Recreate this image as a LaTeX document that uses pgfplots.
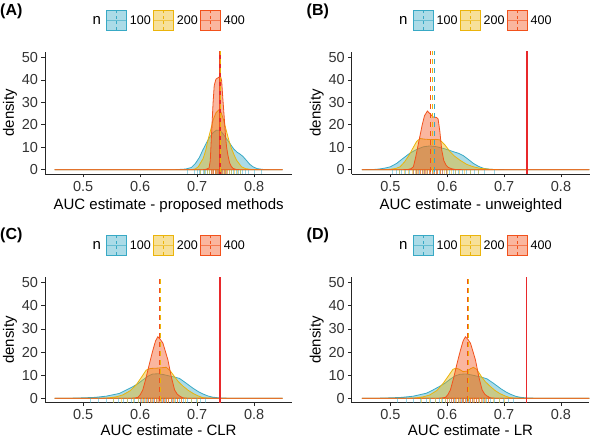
\documentclass[border=0pt]{standalone}
\usepackage{pgfplots}
\pgfplotsset{compat=1.18}
\usepackage{fontspec}
\setmainfont{Liberation Sans}
\definecolor{cA}{HTML}{38A9C5}
\definecolor{cB}{HTML}{EBB40B}
\definecolor{cC}{HTML}{F2511B}
\definecolor{cR}{HTML}{E8282B}
\newcommand{\tickfont}{\fontsize{14.5}{16}\selectfont}
\newcommand{\labfont}{\fontsize{15}{17}\selectfont}
\newcommand{\legfont}{\fontsize{12.5}{14}\selectfont}
\pgfplotsset{
  panel/.style={
    scale only axis,
    axis x line*=bottom, axis y line*=left,
    axis line style={black!85, line width=0.7pt, -},
    tick align=outside, major tick length=3.5pt,
    tick style={black!85, line width=0.6pt},
    xtick={0.5,0.6,0.7,0.8}, ytick={0,10,20,30,40,50},
    minor tick num=0,
    /pgf/number format/assume math mode=true,
    every tick label/.append style={font=\tickfont, text=black!80},
    every axis label/.append style={font=\labfont, text=black},
    ylabel={density},
    xlabel style={at={(axis description cs:0.5,0)}, anchor=base, yshift=-36pt},
    ymin=-1.9, clip=true,
  },
  d100/.style={draw=cA, fill=cA, fill opacity=0.42, line width=0.8pt},
  d200/.style={draw=cB, fill=cB, fill opacity=0.42, line width=0.8pt},
  d400/.style={draw=cC, fill=cC, fill opacity=0.42, line width=0.8pt},
  r100/.style={ycomb, no markers, draw=cA, draw opacity=0.5, line width=0.6pt},
  r200/.style={ycomb, no markers, draw=cB, draw opacity=0.5, line width=0.6pt},
  r400/.style={ycomb, no markers, draw=cC, draw opacity=0.5, line width=0.6pt},
  v100/.style={cA, line width=1.1pt, dash pattern=on 4.5pt off 4.5pt},
  v200/.style={cB, line width=1.1pt, dash pattern=on 4.5pt off 4.5pt},
  v400/.style={cC, line width=1.1pt, dash pattern=on 4.5pt off 4.5pt},
  truth/.style={cR, line width=1.3pt},
}
\newcommand{\lkey}[4]{%
  \fill[#3, fill opacity=0.42] (#1,#2-10) rectangle (#1+20,#2+10);
  \draw[#3, line width=0.8pt] (#1,#2-10) rectangle (#1+20,#2+10);
  \draw[#3, line width=0.6pt, opacity=0.6] (#1,#2) -- (#1+20,#2);
  \draw[#3, line width=0.8pt, dash pattern=on 3pt off 2.5pt] (#1+10,#2-10) -- (#1+10,#2+10);
  \node[anchor=west, font=\legfont, inner sep=0pt] at (#1+23,#2) {#4};
}
\newcommand{\legendat}[2]{%
  \node[font=\labfont, inner sep=0pt] at (#1+51.7,#2) {n};
  \lkey{#1+61.7}{#2}{cA}{100}
  \lkey{#1+108.7}{#2}{cB}{200}
  \lkey{#1+155.7}{#2}{cC}{400}
}
\begin{document}
\begin{tikzpicture}[x=1pt,y=1pt]
\useasboundingbox (0,0) rectangle (600,439);

% ---------------- Panel A ----------------
\begin{axis}[panel, at={(45pt,265pt)}, anchor=south west,
  width=247.3pt, height=122.3pt, xmin=0.433, xmax=0.867, ymax=52.5,
  xlabel={AUC estimate - proposed methods},
  ylabel style={at={(axis description cs:-0.1415,0.5)}, anchor=center}]
\addplot[d100] coordinates {(0.45,0) (0.66,0) (0.68,0.3) (0.69,1.0) (0.697,2.8) (0.704,5.5) (0.710,8.8) (0.716,11.8) (0.722,14.5) (0.728,16.5) (0.734,17.6) (0.740,17.5) (0.746,15.8) (0.752,13.6) (0.758,11.5) (0.764,9.3) (0.770,7.8) (0.775,7.0) (0.780,6.0) (0.786,4.3) (0.792,2.5) (0.798,1.3) (0.805,0.5) (0.815,0.15) (0.83,0) (0.85,0)} \closedcycle;
\addplot[d200] coordinates {(0.45,0) (0.69,0) (0.697,0.4) (0.702,1.3) (0.7105,5) (0.715,8.5) (0.719,13.2) (0.724,18) (0.728,22.1) (0.733,25.3) (0.738,26.6) (0.742,25.5) (0.746,22.5) (0.7516,17) (0.756,12.8) (0.760,9.6) (0.765,6.5) (0.769,4.3) (0.774,2.6) (0.778,1.3) (0.785,0.5) (0.795,0.1) (0.81,0) (0.85,0)} \closedcycle;
\addplot[d400] coordinates {(0.45,0) (0.71,0) (0.716,0.2) (0.721,0.8) (0.723,4) (0.7253,16) (0.728,30) (0.730,37.5) (0.733,40.3) (0.736,40.8) (0.739,41.3) (0.741,41.6) (0.743,39.5) (0.745,32) (0.7476,23) (0.750,14.5) (0.7516,10.2) (0.754,6.5) (0.757,3) (0.760,1.4) (0.763,0.6) (0.768,0.15) (0.775,0) (0.85,0)} \closedcycle;
\addplot[r100] coordinates {(0.683,-3) (0.695,-3) (0.700,-3) (0.704,-3) (0.706,-3) (0.710,-3) (0.712,-3) (0.715,-3) (0.718,-3) (0.722,-3) (0.725,-3) (0.728,-3) (0.731,-3) (0.735,-3) (0.738,-3) (0.742,-3) (0.745,-3) (0.748,-3) (0.752,-3) (0.756,-3) (0.760,-3) (0.764,-3) (0.768,-3) (0.772,-3) (0.776,-3) (0.780,-3) (0.785,-3) (0.790,-3) (0.800,-3) (0.812,-3)};
\addplot[r200] coordinates {(0.705,-3) (0.712,-3) (0.717,-3) (0.721,-3) (0.725,-3) (0.728,-3) (0.731,-3) (0.734,-3) (0.737,-3) (0.740,-3) (0.743,-3) (0.746,-3) (0.749,-3) (0.752,-3) (0.756,-3) (0.760,-3) (0.765,-3) (0.770,-3) (0.776,-3)};
\addplot[r400] coordinates {(0.724,-3) (0.727,-3) (0.729,-3) (0.731,-3) (0.733,-3) (0.735,-3) (0.737,-3) (0.739,-3) (0.741,-3) (0.743,-3) (0.745,-3) (0.747,-3) (0.750,-3) (0.753,-3)};
\addplot[truth] coordinates {(0.74,-5) (0.74,60)};
\addplot[v100] coordinates {(0.7405,-5) (0.7405,60)};
\addplot[v200] coordinates {(0.7402,-5) (0.7402,60)};
\addplot[v400] coordinates {(0.7400,-5) (0.7400,60)};
\end{axis}

% ---------------- Panel B ----------------
\begin{axis}[panel, at={(351.7pt,265pt)}, anchor=south west,
  width=238.3pt, height=122.3pt, xmin=0.432, xmax=0.851, ymax=52.5,
  xlabel={AUC estimate - unweighted},
  ylabel style={at={(axis description cs:-0.1469,0.5)}, anchor=center}]
\addplot[d100] coordinates {(0.45,0) (0.47,0.1) (0.48,0.3) (0.49,0.7) (0.50,1.3) (0.511,2.8) (0.522,5) (0.534,7.3) (0.546,9) (0.558,10.2) (0.570,10.6) (0.582,10.2) (0.593,9.5) (0.602,8.8) (0.611,8.0) (0.620,7.3) (0.628,6.3) (0.637,4.6) (0.646,2.8) (0.655,1.5) (0.664,0.6) (0.675,0.2) (0.69,0.05) (0.72,0) (0.85,0)} \closedcycle;
\addplot[d200] coordinates {(0.45,0) (0.49,0) (0.50,0.2) (0.51,0.6) (0.517,1.3) (0.525,3.5) (0.533,6.5) (0.540,9.8) (0.546,12.5) (0.552,13.9) (0.560,13.6) (0.570,13.4) (0.580,13.5) (0.587,13.3) (0.596,11) (0.605,8) (0.613,6) (0.622,4.3) (0.634,2.4) (0.646,1.3) (0.658,0.6) (0.67,0.3) (0.685,0.05) (0.70,0) (0.85,0)} \closedcycle;
\addplot[d400] coordinates {(0.45,0) (0.52,0) (0.53,0.1) (0.536,0.4) (0.5404,1.3) (0.544,5) (0.548,10) (0.552,15) (0.556,20) (0.560,24) (0.565,26.1) (0.570,24.8) (0.575,23.5) (0.5815,23.2) (0.584,22.5) (0.587,17) (0.5903,8.8) (0.594,4) (0.598,2) (0.602,1) (0.608,0.4) (0.615,0.1) (0.63,0) (0.85,0)} \closedcycle;
\addplot[r100] coordinates {(0.503,-3) (0.510,-3) (0.515,-3) (0.520,-3) (0.527,-3) (0.533,-3) (0.540,-3) (0.545,-3) (0.550,-3) (0.556,-3) (0.560,-3) (0.565,-3) (0.570,-3) (0.575,-3) (0.580,-3) (0.586,-3) (0.592,-3) (0.598,-3) (0.604,-3) (0.610,-3) (0.615,-3) (0.620,-3) (0.627,-3) (0.633,-3) (0.640,-3) (0.648,-3) (0.655,-3) (0.665,-3) (0.683,-3)};
\addplot[r200] coordinates {(0.515,-3) (0.525,-3) (0.532,-3) (0.538,-3) (0.543,-3) (0.548,-3) (0.553,-3) (0.558,-3) (0.563,-3) (0.568,-3) (0.573,-3) (0.578,-3) (0.583,-3) (0.588,-3) (0.594,-3) (0.600,-3) (0.607,-3) (0.614,-3) (0.622,-3) (0.630,-3) (0.640,-3) (0.655,-3)};
\addplot[r400] coordinates {(0.540,-3) (0.545,-3) (0.549,-3) (0.553,-3) (0.556,-3) (0.559,-3) (0.562,-3) (0.565,-3) (0.568,-3) (0.571,-3) (0.574,-3) (0.577,-3) (0.580,-3) (0.583,-3) (0.587,-3) (0.592,-3) (0.598,-3)};
\addplot[truth] coordinates {(0.74,-5) (0.74,60)};
\addplot[v100] coordinates {(0.5772,-5) (0.5772,60)};
\addplot[v200] coordinates {(0.5742,-5) (0.5742,60)};
\addplot[v400] coordinates {(0.5713,-5) (0.5713,60)};
\end{axis}

% ---------------- Panel C ----------------
\begin{axis}[panel, at={(45pt,36.3pt)}, anchor=south west,
  width=247.3pt, height=125.4pt, xmin=0.433, xmax=0.867, ymax=52.3,
  xlabel={AUC estimate - CLR},
  xlabel style={yshift=3pt},
  ylabel style={at={(axis description cs:-0.1415,0.5)}, anchor=center}]
\addplot[d100] coordinates {(0.45,0) (0.48,0.05) (0.50,0.2) (0.52,0.4) (0.54,0.9) (0.5635,2.1) (0.575,3.5) (0.587,5) (0.596,6.3) (0.605,8) (0.614,9.6) (0.622,10.5) (0.632,10.6) (0.642,10.2) (0.652,9.6) (0.660,9.2) (0.669,8.6) (0.681,6.5) (0.693,4.3) (0.702,2.9) (0.710,1.9) (0.719,1) (0.727,0.5) (0.74,0.15) (0.76,0) (0.85,0)} \closedcycle;
\addplot[d200] coordinates {(0.45,0) (0.53,0) (0.545,0.2) (0.557,0.6) (0.569,1.4) (0.582,3.2) (0.593,5.8) (0.602,9) (0.6106,12.2) (0.618,12.9) (0.628,13) (0.637,13.2) (0.646,13.4) (0.653,11.8) (0.6605,9.3) (0.667,7.2) (0.675,5.3) (0.684,3.5) (0.693,2.1) (0.702,1) (0.71,0.3) (0.72,0.1) (0.74,0) (0.85,0)} \closedcycle;
\addplot[d400] coordinates {(0.45,0) (0.58,0) (0.59,0.1) (0.596,0.4) (0.600,1.5) (0.6046,3.6) (0.610,8.5) (0.6164,15.1) (0.622,20.5) (0.627,24.8) (0.631,26.6) (0.635,25.6) (0.640,23.8) (0.644,20.5) (0.6487,16.6) (0.6546,9.3) (0.6605,3.6) (0.665,1.8) (0.669,1) (0.675,0.2) (0.685,0) (0.85,0)} \closedcycle;
\addplot[r100] coordinates {(0.512,-3) (0.527,-3) (0.540,-3) (0.552,-3) (0.562,-3) (0.570,-3) (0.578,-3) (0.585,-3) (0.590,-3) (0.596,-3) (0.602,-3) (0.607,-3) (0.612,-3) (0.618,-3) (0.623,-3) (0.628,-3) (0.633,-3) (0.638,-3) (0.644,-3) (0.650,-3) (0.656,-3) (0.662,-3) (0.668,-3) (0.675,-3) (0.682,-3) (0.690,-3) (0.698,-3) (0.706,-3) (0.715,-3)};
\addplot[r200] coordinates {(0.553,-3) (0.567,-3) (0.578,-3) (0.588,-3) (0.596,-3) (0.603,-3) (0.609,-3) (0.615,-3) (0.620,-3) (0.625,-3) (0.630,-3) (0.635,-3) (0.640,-3) (0.645,-3) (0.650,-3) (0.655,-3) (0.660,-3) (0.666,-3) (0.672,-3) (0.680,-3) (0.690,-3) (0.700,-3)};
\addplot[r400] coordinates {(0.600,-3) (0.606,-3) (0.610,-3) (0.614,-3) (0.618,-3) (0.622,-3) (0.625,-3) (0.628,-3) (0.631,-3) (0.634,-3) (0.637,-3) (0.640,-3) (0.643,-3) (0.646,-3) (0.650,-3) (0.654,-3) (0.659,-3) (0.665,-3) (0.672,-3)};
\addplot[truth] coordinates {(0.74,-5) (0.74,60)};
\addplot[v100] coordinates {(0.6355,-5) (0.6355,60)};
\addplot[v200] coordinates {(0.6350,-5) (0.6350,60)};
\addplot[v400] coordinates {(0.6345,-5) (0.6345,60)};
\end{axis}

% ---------------- Panel D ----------------
\begin{axis}[panel, at={(351.7pt,36.3pt)}, anchor=south west,
  width=237.6pt, height=125.4pt, xmin=0.432, xmax=0.850, ymax=52.3,
  xlabel={AUC estimate - LR},
  xlabel style={yshift=3pt},
  ylabel style={at={(axis description cs:-0.1473,0.5)}, anchor=center}]
\addplot[d100] coordinates {(0.45,0) (0.48,0.05) (0.50,0.2) (0.52,0.4) (0.54,0.9) (0.5635,2.2) (0.575,3.6) (0.587,5.2) (0.596,6.5) (0.605,8.2) (0.614,9.7) (0.623,10.4) (0.633,10.5) (0.643,10.1) (0.652,9.6) (0.661,9.1) (0.670,8.4) (0.682,6.4) (0.694,4.2) (0.703,2.8) (0.711,1.8) (0.720,0.9) (0.728,0.45) (0.74,0.15) (0.76,0) (0.85,0)} \closedcycle;
\addplot[d200] coordinates {(0.45,0) (0.53,0) (0.545,0.2) (0.557,0.6) (0.569,1.4) (0.582,3.4) (0.593,6.5) (0.603,10) (0.610,12.5) (0.615,13) (0.621,12.6) (0.628,11.5) (0.636,11.8) (0.641,12.8) (0.646,13.4) (0.652,12.5) (0.660,9.5) (0.667,7.2) (0.675,5.3) (0.684,3.4) (0.693,2) (0.702,1) (0.71,0.3) (0.72,0.1) (0.74,0) (0.85,0)} \closedcycle;
\addplot[d400] coordinates {(0.45,0) (0.58,0) (0.59,0.1) (0.597,0.4) (0.601,1.5) (0.6056,3.6) (0.611,8.5) (0.6174,15.1) (0.623,20.5) (0.628,24.8) (0.632,26.6) (0.636,25.6) (0.641,23.8) (0.645,20.5) (0.6497,16.6) (0.6556,9.3) (0.6615,3.6) (0.666,1.8) (0.670,1) (0.676,0.2) (0.686,0) (0.85,0)} \closedcycle;
\addplot[r100] coordinates {(0.513,-3) (0.528,-3) (0.541,-3) (0.553,-3) (0.563,-3) (0.571,-3) (0.579,-3) (0.586,-3) (0.591,-3) (0.597,-3) (0.603,-3) (0.608,-3) (0.613,-3) (0.619,-3) (0.624,-3) (0.629,-3) (0.634,-3) (0.639,-3) (0.645,-3) (0.651,-3) (0.657,-3) (0.663,-3) (0.669,-3) (0.676,-3) (0.683,-3) (0.691,-3) (0.699,-3) (0.707,-3) (0.716,-3)};
\addplot[r200] coordinates {(0.554,-3) (0.568,-3) (0.579,-3) (0.589,-3) (0.597,-3) (0.604,-3) (0.610,-3) (0.616,-3) (0.621,-3) (0.626,-3) (0.631,-3) (0.636,-3) (0.641,-3) (0.646,-3) (0.651,-3) (0.656,-3) (0.661,-3) (0.667,-3) (0.673,-3) (0.681,-3) (0.691,-3) (0.701,-3)};
\addplot[r400] coordinates {(0.601,-3) (0.607,-3) (0.611,-3) (0.615,-3) (0.619,-3) (0.623,-3) (0.626,-3) (0.629,-3) (0.632,-3) (0.635,-3) (0.638,-3) (0.641,-3) (0.644,-3) (0.647,-3) (0.651,-3) (0.655,-3) (0.660,-3) (0.666,-3) (0.673,-3)};
\addplot[truth] coordinates {(0.74,-5) (0.74,60)};
\addplot[v100] coordinates {(0.6375,-5) (0.6375,60)};
\addplot[v200] coordinates {(0.6372,-5) (0.6372,60)};
\addplot[v400] coordinates {(0.6360,-5) (0.6360,60)};
\end{axis}

% ---------------- legends and panel tags ----------------
\legendat{45}{419}
\legendat{351.7}{419}
\legendat{45}{194}
\legendat{351.7}{194}
\node[anchor=north west, inner sep=0pt, font=\bfseries\fontsize{16}{18}\selectfont] at (0,435) {(A)};
\node[anchor=north west, inner sep=0pt, font=\bfseries\fontsize{16}{18}\selectfont] at (306.5,435) {(B)};
\node[anchor=north west, inner sep=0pt, font=\bfseries\fontsize{16}{18}\selectfont] at (0,211) {(C)};
\node[anchor=north west, inner sep=0pt, font=\bfseries\fontsize{16}{18}\selectfont] at (306.5,211) {(D)};
\end{tikzpicture}
\end{document}
